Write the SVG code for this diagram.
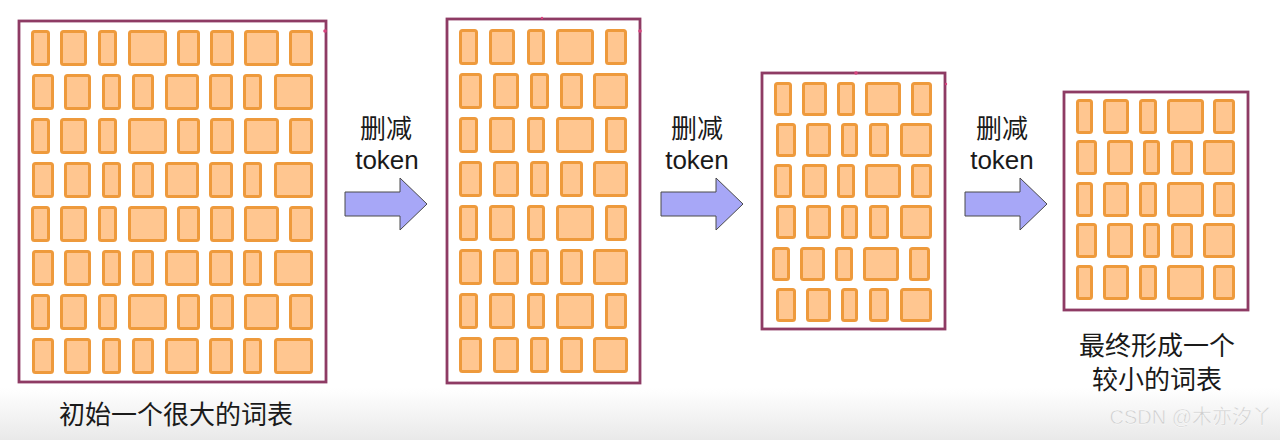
<svg xmlns="http://www.w3.org/2000/svg" xmlns:xlink="http://www.w3.org/1999/xlink" width="1280" height="440" viewBox="0 0 1280 440">
<style>
.t{fill:#ffc690;stroke:#ee9a3c;stroke-width:3}
.frame{fill:#ffffff;stroke:#8e3b64;stroke-width:2.8}
.arrow{fill:#a7a7f7;stroke:#4a4a4a;stroke-width:1}
.lbl{font-family:"Liberation Sans","Noto Sans CJK SC",sans-serif;font-size:26px;fill:#1a1a1a;text-anchor:middle}
.cap{font-family:"Noto Sans CJK SC",sans-serif;font-size:26px;fill:#1a1a1a;text-anchor:middle;font-weight:400}
.dot{fill:#d8447e}
</style>
<defs>
<linearGradient id="bg" x1="0" y1="0" x2="0" y2="1">
<stop offset="0" stop-color="#ffffff"/>
<stop offset="1" stop-color="#e9e9e9"/>
</linearGradient>
<g id="p1a">
<rect class="t" x="32.5" y="1.5" width="16" height="33" rx="2"/>
<rect class="t" x="61.5" y="1.5" width="24" height="33" rx="2"/>
<rect class="t" x="99.5" y="1.5" width="16" height="33" rx="2"/>
<rect class="t" x="129.5" y="1.5" width="36" height="33" rx="2"/>
<rect class="t" x="178.5" y="1.5" width="20" height="33" rx="2"/>
<rect class="t" x="211.5" y="1.5" width="21" height="33" rx="2"/>
<rect class="t" x="245.5" y="1.5" width="32" height="33" rx="2"/>
<rect class="t" x="290.5" y="1.5" width="21" height="33" rx="2"/>
</g>
<g id="p1b">
<rect class="t" x="33.5" y="1.5" width="19" height="33" rx="2"/>
<rect class="t" x="65.5" y="1.5" width="24" height="33" rx="2"/>
<rect class="t" x="103.5" y="1.5" width="16" height="33" rx="2"/>
<rect class="t" x="133.5" y="1.5" width="19" height="33" rx="2"/>
<rect class="t" x="166.5" y="1.5" width="31" height="33" rx="2"/>
<rect class="t" x="210.5" y="1.5" width="21" height="33" rx="2"/>
<rect class="t" x="244.5" y="1.5" width="16" height="33" rx="2"/>
<rect class="t" x="275.5" y="1.5" width="36" height="33" rx="2"/>
</g>
<g id="p2a">
<rect class="t" x="460.5" y="1.5" width="16" height="33" rx="2"/>
<rect class="t" x="490.5" y="1.5" width="23" height="33" rx="2"/>
<rect class="t" x="528.5" y="1.5" width="15" height="33" rx="2"/>
<rect class="t" x="557.5" y="1.5" width="35" height="33" rx="2"/>
<rect class="t" x="606.5" y="1.5" width="19" height="33" rx="2"/>
</g>
<g id="p2b">
<rect class="t" x="460.5" y="1.5" width="20" height="33" rx="2"/>
<rect class="t" x="494.5" y="1.5" width="23" height="33" rx="2"/>
<rect class="t" x="531.5" y="1.5" width="16" height="33" rx="2"/>
<rect class="t" x="561.5" y="1.5" width="20" height="33" rx="2"/>
<rect class="t" x="594.5" y="1.5" width="32" height="33" rx="2"/>
</g>
<g id="p3a">
<rect class="t" x="775.5" y="1.5" width="15" height="31" rx="2"/>
<rect class="t" x="803.5" y="1.5" width="22" height="31" rx="2"/>
<rect class="t" x="838.5" y="1.5" width="15" height="31" rx="2"/>
<rect class="t" x="866.5" y="1.5" width="33" height="31" rx="2"/>
<rect class="t" x="912.5" y="1.5" width="18" height="31" rx="2"/>
</g>
<g id="p3b">
<rect class="t" x="777.5" y="1.5" width="17" height="31" rx="2"/>
<rect class="t" x="807.5" y="1.5" width="22" height="31" rx="2"/>
<rect class="t" x="842.5" y="1.5" width="14" height="31" rx="2"/>
<rect class="t" x="870.5" y="1.5" width="17" height="31" rx="2"/>
<rect class="t" x="901.5" y="1.5" width="29" height="31" rx="2"/>
</g>
<g id="p4a">
<rect class="t" x="1077.5" y="1.5" width="14" height="32" rx="2"/>
<rect class="t" x="1104.5" y="1.5" width="23" height="32" rx="2"/>
<rect class="t" x="1140.5" y="1.5" width="15" height="32" rx="2"/>
<rect class="t" x="1168.5" y="1.5" width="34" height="32" rx="2"/>
<rect class="t" x="1214.5" y="1.5" width="19" height="32" rx="2"/>
</g>
<g id="p4b">
<rect class="t" x="1077.5" y="1.5" width="18" height="32" rx="2"/>
<rect class="t" x="1108.5" y="1.5" width="23" height="32" rx="2"/>
<rect class="t" x="1144.5" y="1.5" width="14" height="32" rx="2"/>
<rect class="t" x="1172.5" y="1.5" width="19" height="32" rx="2"/>
<rect class="t" x="1204.5" y="1.5" width="29" height="32" rx="2"/>
</g>
<path id="arr" d="M0,14 H55 V0 L82,26 L55,52 V38 H0 Z"/>
</defs>

<rect x="0" y="0" width="1280" height="440" fill="#ffffff"/>
<rect x="0" y="388" width="1280" height="52" fill="url(#bg)"/>

<g id="vocab-initial">
<rect class="frame" x="19" y="21" width="307" height="361"/>
<use xlink:href="#p1a" y="30"/>
<use xlink:href="#p1b" y="74"/>
<use xlink:href="#p1a" y="118"/>
<use xlink:href="#p1b" y="162"/>
<use xlink:href="#p1a" y="206"/>
<use xlink:href="#p1b" y="250"/>
<use xlink:href="#p1a" y="294"/>
<use xlink:href="#p1b" y="338"/>
<circle class="dot" cx="325" cy="31" r="1.8"/>
<text class="cap" x="176" y="424">初始一个很大的词表</text>
</g>

<g id="vocab-step2">
<rect class="frame" x="447" y="19" width="193" height="364"/>
<use xlink:href="#p2a" y="29"/>
<use xlink:href="#p2b" y="73"/>
<use xlink:href="#p2a" y="117"/>
<use xlink:href="#p2b" y="161"/>
<use xlink:href="#p2a" y="205"/>
<use xlink:href="#p2b" y="249"/>
<use xlink:href="#p2a" y="293"/>
<use xlink:href="#p2b" y="337"/>
<circle class="dot" cx="640" cy="31" r="1.8"/>
<circle class="dot" cx="542" cy="18" r="1.2"/>
</g>

<g id="vocab-step3">
<rect class="frame" x="762" y="73" width="183" height="256"/>
<use xlink:href="#p3a" y="82"/>
<use xlink:href="#p3b" y="123"/>
<use xlink:href="#p3a" y="164"/>
<use xlink:href="#p3b" y="205"/>
<use xlink:href="#p3a" y="247" transform="translate(-2,0)"/>
<use xlink:href="#p3b" y="288"/>
<circle class="dot" cx="856" cy="73" r="1.8"/>
<circle class="dot" cx="946" cy="84" r="1.2"/>
</g>

<g id="vocab-final">
<rect class="frame" x="1064" y="92" width="184" height="218"/>
<use xlink:href="#p4a" y="99"/>
<use xlink:href="#p4b" y="140"/>
<use xlink:href="#p4a" y="182"/>
<use xlink:href="#p4b" y="223"/>
<use xlink:href="#p4a" y="265"/>
<text class="cap" x="1157" y="355">最终形成一个</text>
<text class="cap" x="1157" y="389">较小的词表</text>
</g>

<g id="connectors">
<g id="arrow1">
<use class="arrow" xlink:href="#arr" transform="translate(345,178)"/>
<text class="lbl" x="386" y="138">删减</text>
<text class="lbl" x="387" y="169">token</text>
</g>
<g id="arrow2">
<use class="arrow" xlink:href="#arr" transform="translate(661,178)"/>
<text class="lbl" x="697" y="138">删减</text>
<text class="lbl" x="697" y="169">token</text>
</g>
<g id="arrow3">
<use class="arrow" xlink:href="#arr" transform="translate(965,178)"/>
<text class="lbl" x="1002" y="138">删减</text>
<text class="lbl" x="1002" y="169">token</text>
</g>
</g>

<text x="1272" y="424" text-anchor="end" style="font-family:'Liberation Sans','Noto Sans CJK SC',sans-serif;font-size:20px;fill:#cfcfcf;stroke:#ffffff;stroke-width:0.4">CSDN @木亦汐丫</text>
</svg>
